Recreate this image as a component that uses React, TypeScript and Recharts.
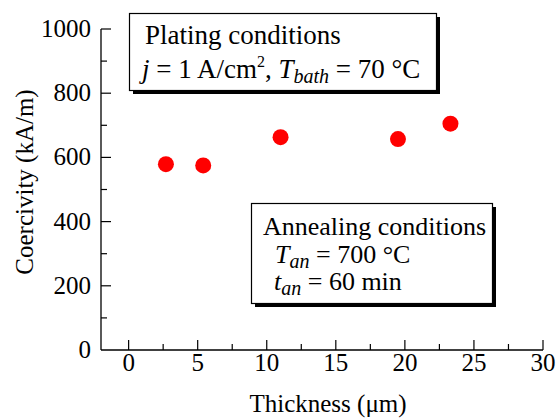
import React from 'react';
import { ScatterChart, Scatter, XAxis, YAxis, Customized } from 'recharts';

const thickness = [2.7, 5.4, 11.0, 19.5, 23.3];
const coercivity = [579, 575, 663, 657, 705];
const xTicks = [0, 2.5, 5, 7.5, 10, 12.5, 15, 17.5, 20, 22.5, 25, 27.5, 30];
const yTicks = [0, 100, 200, 300, 400, 500, 600, 700, 800, 900, 1000];
const xLabelEvery = 5;
const yLabelEvery = 200;

const data = thickness.map((t, i) => ({ x: t, y: coercivity[i] }));

const FONT = '"Liberation Serif", "Times New Roman", Times, serif';
const FS = 25;
const PFS = 27;
const BFS = 26;

const XTick = (props: any) => {
  const { x, y, payload } = props;
  const v = payload.value;
  const major = Math.abs(v % xLabelEvery) < 1e-9;
  return (
    <g>
      <line x1={x} x2={x} y1={y} y2={y - (major ? 10 : 6)} stroke="#000" strokeWidth={1.2} />
      {major && (
        <text x={x} y={y + 21} textAnchor="middle" fontFamily={FONT} fontSize={FS} fill="#000">
          {v}
        </text>
      )}
    </g>
  );
};

const YTick = (props: any) => {
  const { x, y, payload } = props;
  const v = payload.value;
  const major = Math.abs(v % yLabelEvery) < 1e-9;
  return (
    <g>
      {v !== 0 && (
        <line x1={x} x2={x + (major ? 10 : 6)} y1={y} y2={y} stroke="#000" strokeWidth={1.2} />
      )}
      {major && (
        <text x={x - 10} y={y + 8} textAnchor="end" fontFamily={FONT} fontSize={FS} fill="#000">
          {v}
        </text>
      )}
    </g>
  );
};

const Annotations = () => (
  <g fontFamily={FONT} fill="#000">
    {/* Plating box */}
    <rect x={133} y={17} width={307} height={77} fill="#000" />
    <rect x={129.5} y={13.5} width={307} height={77} fill="#fff" stroke="#000" strokeWidth={1.2} />
    <text x={145} y={44} fontSize={PFS}>Plating conditions</text>
    <text x={142} y={78} fontSize={PFS}>
      <tspan fontStyle="italic">j</tspan>
      <tspan> = 1 A/cm</tspan>
      <tspan fontSize={16} dy={-11}>2</tspan>
      <tspan dy={11}>, </tspan>
      <tspan fontStyle="italic">T</tspan>
      <tspan fontStyle="italic" fontSize={20} dy={5}>bath</tspan>
      <tspan dy={-5}> = 70 °C</tspan>
    </text>
    {/* Annealing box */}
    <rect x={255} y={207} width={241} height={100} fill="#000" />
    <rect x={251.5} y={203.5} width={241} height={100} fill="#fff" stroke="#000" strokeWidth={1.2} />
    <text x={263} y={235} fontSize={BFS}>Annealing conditions</text>
    <text x={275} y={263} fontSize={BFS}>
      <tspan fontStyle="italic">T</tspan>
      <tspan fontStyle="italic" fontSize={20} dy={5}>an</tspan>
      <tspan dy={-5}> = 700 °C</tspan>
    </text>
    <text x={274} y={290} fontSize={BFS}>
      <tspan fontStyle="italic">t</tspan>
      <tspan fontStyle="italic" fontSize={20} dy={5}>an</tspan>
      <tspan dy={-5}> = 60 min</tspan>
    </text>
    {/* Axis titles */}
    <text x={33} y={182} fontSize={FS} textAnchor="middle" transform="rotate(-90 33 182)">
      Coercivity (kA/m)
    </text>
    <text x={328} y={412} fontSize={FS} textAnchor="middle">
      Thickness (μm)
    </text>
  </g>
);

export default function App() {
  return (
    <div style={{ position: 'absolute', left: 0, top: 0, width: 558, height: 418, background: '#fff' }}>
      <ScatterChart width={558} height={418} margin={{ top: 29, right: 15, bottom: 28, left: 41 }}>
        <XAxis
          type="number"
          dataKey="x"
          domain={[-2, 30]}
          ticks={xTicks}
          interval={0}
          tickSize={0}
          tickMargin={0}
          tickLine={false}
          height={40}
          axisLine={{ stroke: '#000', strokeWidth: 1.3 }}
          tick={<XTick />}
          allowDataOverflow
        />
        <YAxis
          type="number"
          dataKey="y"
          domain={[0, 1000]}
          ticks={yTicks}
          interval={0}
          tickSize={0}
          tickMargin={0}
          tickLine={false}
          width={60}
          axisLine={{ stroke: '#000', strokeWidth: 1.3 }}
          tick={<YTick />}
          allowDataOverflow
        />
        <Customized component={Annotations} />
        <Scatter
          data={data}
          isAnimationActive={false}
          shape={(p: any) => <circle cx={p.cx} cy={p.cy} r={8} fill="#ff0000" />}
        />
      </ScatterChart>
    </div>
  );
}
